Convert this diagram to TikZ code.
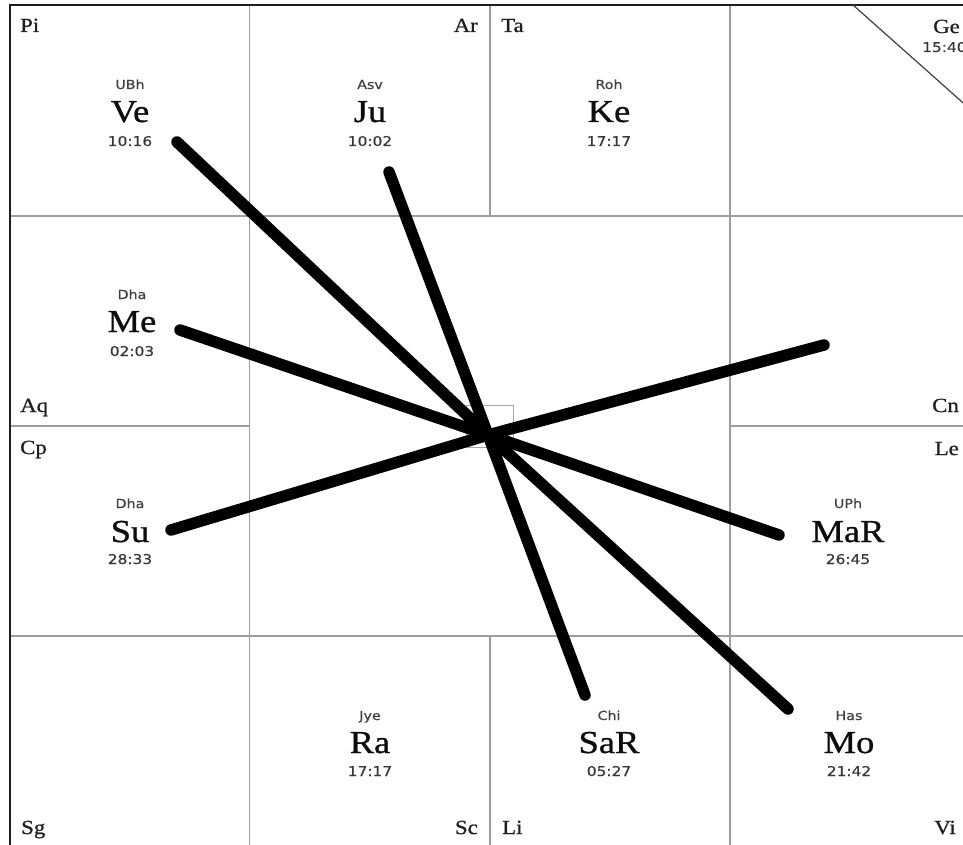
\documentclass[tikz,border=0pt]{standalone}
\usepackage{fontspec}
\setmainfont[FakeStretch=1.14,FakeBold=0.9]{Liberation Serif}
\newfontfamily\nsans[FakeStretch=1.14,FakeBold=0.5]{DejaVu Sans}
\begin{document}
\begin{tikzpicture}[x=1pt,y=-1pt,
  gridline/.style={draw=black!38, line width=1.4pt},
  frameline/.style={draw=black!88, line width=2.6pt},
  aspect/.style={line width=11.5pt, line cap=round, draw=black},
  sign/.style={inner sep=0pt, font=\fontsize{20}{20}\selectfont, text=black!88},
  pname/.style={inner sep=0pt, anchor=base, font=\fontsize{32}{32}\selectfont, text=black!95},
  naks/.style={inner sep=0pt, anchor=base, font=\nsans\fontsize{12.5}{13}\selectfont, text=black!75},
  ptime/.style={inner sep=0pt, anchor=base, font=\nsans\fontsize{13.5}{14}\selectfont, text=black!78}]
\useasboundingbox (0,0) rectangle (963,845);
\fill[white] (0,0) rectangle (963,845);
\clip (0,0) rectangle (963,845);

% grid
\draw[gridline] (249.5,5) -- (249.5,850);
\draw[gridline] (730,5) -- (730,850);
\draw[gridline] (490,5) -- (490,216);
\draw[gridline] (490,636) -- (490,850);
\draw[gridline] (10,216) -- (970,216);
\draw[gridline] (10,636) -- (970,636);
\draw[gridline] (10,426) -- (249.5,426);
\draw[gridline] (730,426) -- (970,426);
\draw[draw=black!35, line width=1pt] (466,405) rectangle (513,447);
\draw[frameline] (10,850) -- (10,5) -- (970,5);
\draw[draw=black!75, line width=1.2pt] (853,5) -- (970,109);

% sign labels
\node[sign, anchor=base west] (pi) at (20,32) {Pi};
\node[sign, anchor=base east] (ar) at (478,32) {Ar};
\node[sign, anchor=base west] (ta) at (501,32) {Ta};
\node[sign, anchor=base east] (ge) at (960,33) {Ge};
\node[ptime, anchor=base west] (asc) at (922,52) {15:40};
\node[sign, anchor=base west] (aq) at (20,412) {Aq};
\node[sign, anchor=base east] (cn) at (959,412) {Cn};
\node[sign, anchor=base west] (cp) at (20,454) {Cp};
\node[sign, anchor=base east] (le) at (959,455) {Le};
\node[sign, anchor=base west] (sg) at (21,834) {Sg};
\node[sign, anchor=base east] (sc) at (478,834) {Sc};
\node[sign, anchor=base west] (li) at (502,834) {Li};
\node[sign, anchor=base east] (vi) at (956,834) {Vi};

% planets
\node[naks] (ven) at (130,89) {UBh};
\node[pname] (ve) at (130,122) {Ve};
\node[ptime] (vet) at (130,146) {10:16};
\node[naks] (jun) at (370,89) {Asv};
\node[pname] (ju) at (370,122) {Ju};
\node[ptime] (jut) at (370,146) {10:02};
\node[naks] (ken) at (609,89) {Roh};
\node[pname] (ke) at (609,122) {Ke};
\node[ptime] (ket) at (609,146) {17:17};
\node[naks] (men) at (132,299) {Dha};
\node[pname] (me) at (132,332) {Me};
\node[ptime] (met) at (132,356) {02:03};
\node[naks] (sun) at (130,508) {Dha};
\node[pname] (su) at (130,542) {Su};
\node[ptime] (sut) at (130,564) {28:33};
\node[naks] (man) at (848,508) {UPh};
\node[pname] (ma) at (848,542) {MaR};
\node[ptime] (mat) at (848,564) {26:45};
\node[naks] (ran) at (370,720) {Jye};
\node[pname] (ra) at (370,753) {Ra};
\node[ptime] (rat) at (370,776) {17:17};
\node[naks] (san) at (609,720) {Chi};
\node[pname] (sa) at (609,753) {SaR};
\node[ptime] (sat) at (609,776) {05:27};
\node[naks] (mon) at (849,720) {Has};
\node[pname] (mo) at (849,753) {Mo};
\node[ptime] (mot) at (849,776) {21:42};

% aspect lines
\coordinate (c) at (488,435);
\coordinate (eve) at (177,142);
\coordinate (eju) at (389,172);
\coordinate (eme) at (180,330);
\coordinate (ecn) at (824,345);
\coordinate (esu) at (171,530);
\coordinate (ema) at (779,535);
\coordinate (esa) at (585,695);
\coordinate (emo) at (788,709);
\foreach \e in {eve,eju,eme,ecn,esu,ema,esa,emo}
  \draw[aspect] (c) -- (\e);
\end{tikzpicture}
\end{document}
